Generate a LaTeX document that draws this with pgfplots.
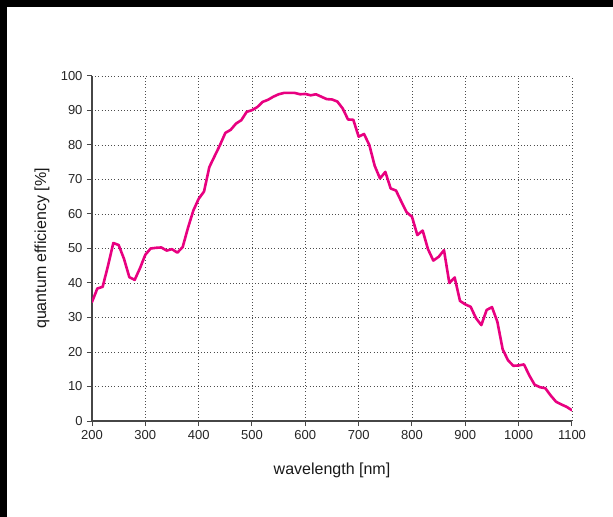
\documentclass[border=0pt]{standalone}
\usepackage{fontspec}
\setmainfont{Liberation Sans}
\usepackage{pgfplots}
\pgfplotsset{compat=1.18}
\definecolor{qe}{RGB}{232,0,128}
\definecolor{axgray}{RGB}{70,70,70}
\begin{document}
\begin{tikzpicture}
\useasboundingbox (-92bp,-96bp) rectangle (521bp,421bp);
\fill[white] (-92bp,-96bp) rectangle (521bp,421bp);
\fill[black] (-92bp,-96bp) rectangle (-85bp,421bp);
\fill[black] (-92bp,414bp) rectangle (521bp,421bp);
\begin{axis}[
  at={(0,0)}, anchor=south west,
  scale only axis, width=480bp, height=345bp,
  xmin=200, xmax=1100, ymin=0, ymax=100,
  enlargelimits=false,
  axis x line=bottom, axis y line=left,
  axis line style={-, axgray, line width=1.2bp},
  xtick={200,300,...,1100}, ytick={0,10,...,100},
  tick align=outside, major tick length=5bp,
  tick style={axgray, line width=1bp},
  grid=major,
  major grid style={black!70, line width=0.8bp, dash pattern=on 0.8bp off 2.4bp},
  /pgf/number format/assume math mode=true,
  /pgf/number format/1000 sep={},
  tick label style={font=\fontsize{13bp}{15bp}\selectfont, text=black!85},
  xticklabel style={yshift=-1bp},
  yticklabel style={xshift=-1bp},
  every axis x label/.style={at={(axis description cs:0.5,-0.142)}, anchor=center},
  every axis y label/.style={at={(axis description cs:-0.104,0.5)}, rotate=90, anchor=center},
  label style={font=\fontsize{16bp}{18bp}\selectfont, text=black!90},
  xlabel={wavelength [nm]},
  ylabel={quantum efficiency [\%]},
]
\addplot[qe, line width=2.6bp, line join=round, line cap=round] coordinates {
(200,34.5) (210,38.4) (220,38.9) (230,45) (240,51.6) (250,51) (260,47) (270,41.7) (280,40.9) (290,44.3)
(300,48.2) (310,50) (320,50.2) (330,50.3) (340,49.4) (350,49.8) (360,48.8) (370,50.4) (380,56) (390,61)
(400,64.4) (410,66.5) (420,73.6) (430,76.8) (440,80) (450,83.5) (460,84.4) (470,86.2) (480,87.2) (490,89.6)
(500,90.1) (510,91) (520,92.5) (530,93.1) (540,94) (550,94.7) (560,95.1) (570,95.1) (580,95.1) (590,94.7)
(600,94.8) (610,94.4) (620,94.7) (630,94) (640,93.3) (650,93.2) (660,92.6) (670,90.6) (680,87.4) (690,87.3)
(700,82.4) (710,83.2) (720,80) (730,74) (740,70.3) (750,72.2) (760,67.4) (770,66.8) (780,63.6) (790,60.5)
(800,59.2) (810,53.9) (820,55.2) (830,49.8) (840,46.5) (850,47.6) (860,49.5) (870,40) (880,41.6) (890,34.8)
(900,33.8) (910,33.1) (920,29.8) (930,27.8) (940,32.2) (950,33) (960,28.8) (970,20.8) (980,17.6) (990,16)
(1000,16.1) (1010,16.4) (1020,13.2) (1030,10.5) (1040,9.8) (1050,9.5) (1060,7.4) (1070,5.6) (1080,4.8) (1090,4.1)
(1100,3.1)
};
\end{axis}
\end{tikzpicture}
\end{document}
